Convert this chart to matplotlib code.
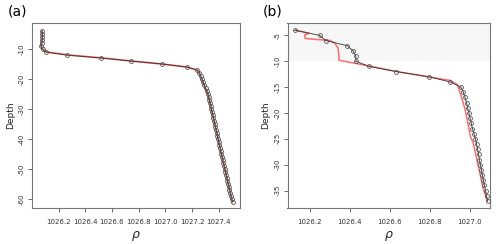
import matplotlib.pyplot as plt

# panel (a): observed profile (black circles) and model (red line)
depth_a = [-4, -5, -6, -7, -8, -9, -10, -11, -12, -13, -14, -15, -16, -17, -18, -19,
           -20, -21, -22, -23, -24, -25, -26, -27, -28, -29, -30, -31, -32, -33, -34,
           -35, -36, -37, -38, -39, -40, -41, -42, -43, -44, -45, -46, -47, -48, -49,
           -50, -51, -52, -53, -54, -55, -56, -57, -58, -59, -60, -61]
rho_a = [1026.075, 1026.076, 1026.078, 1026.077, 1026.073, 1026.068, 1026.080, 1026.105,
         1026.260, 1026.520, 1026.740, 1026.975, 1027.160, 1027.240, 1027.255, 1027.265,
         1027.275, 1027.284, 1027.293, 1027.302, 1027.311, 1027.320, 1027.326, 1027.331,
         1027.336, 1027.341, 1027.346, 1027.351, 1027.356, 1027.361, 1027.366, 1027.371,
         1027.376, 1027.381, 1027.386, 1027.391, 1027.396, 1027.401, 1027.406, 1027.411,
         1027.416, 1027.421, 1027.426, 1027.431, 1027.436, 1027.441, 1027.446, 1027.451,
         1027.456, 1027.461, 1027.466, 1027.471, 1027.476, 1027.481, 1027.486, 1027.491,
         1027.498, 1027.505]
model_depth_a = [-4, -6, -8, -9, -10, -11, -12, -13, -14, -15, -16, -17, -18, -20, -22,
                 -25, -30, -35, -40, -45, -50, -55, -61]
model_rho_a = [1026.074, 1026.077, 1026.071, 1026.066, 1026.078, 1026.110, 1026.270,
               1026.530, 1026.745, 1026.975, 1027.160, 1027.235, 1027.255, 1027.270,
               1027.290, 1027.318, 1027.344, 1027.370, 1027.396, 1027.420, 1027.446,
               1027.472, 1027.503]

# panel (b)
depth_b = [-4, -5, -6, -7, -8, -9, -10, -11, -12, -13, -14, -15, -16, -17, -18, -19, -20,
           -21, -22, -23, -24, -25, -26, -27, -28, -29, -30, -31, -32, -33, -34, -35, -36,
           -37]
rho_b = [1026.125, 1026.250, 1026.280, 1026.387, 1026.417, 1026.430, 1026.430, 1026.497,
         1026.633, 1026.795, 1026.900, 1026.955, 1026.967, 1026.975, 1026.983, 1026.988,
         1026.995, 1027.000, 1027.007, 1027.012, 1027.020, 1027.027, 1027.033, 1027.038,
         1027.043, 1027.047, 1027.052, 1027.057, 1027.062, 1027.067, 1027.072, 1027.078,
         1027.083, 1027.088]
model_depth_b = [-4, -4.6, -4.9, -5.6, -6.0, -6.5, -7.5, -9.8, -10.0, -10.5, -11.0, -12.0,
                 -13.0, -13.7, -14.5, -16.6, -19.2, -22.4, -24.7, -25.6, -28.2,
                 -31.4, -34.6, -37.0]
model_rho_b = [1026.130, 1026.197, 1026.175, 1026.177, 1026.300, 1026.325, 1026.342,
               1026.347, 1026.370, 1026.440, 1026.505, 1026.635, 1026.790, 1026.900,
               1026.937, 1026.955, 1026.975, 1026.992, 1027.003, 1027.015,
               1027.030, 1027.048, 1027.066, 1027.087]

xticks_a = [1026.2, 1026.4, 1026.6, 1026.8, 1027.0, 1027.2, 1027.4]
yticks_a = [-10, -20, -30, -40, -50, -60]
xticks_b = [1026.2, 1026.4, 1026.6, 1026.8, 1027.0]
yticks_b = [-5, -10, -15, -20, -25, -30, -35]

fig = plt.figure(figsize=(5, 2.44), dpi=100)
ax1 = fig.add_axes([0.064, 0.148, 0.416, 0.758])
ax2 = fig.add_axes([0.575, 0.148, 0.405, 0.758])


def style(ax, xticks, yticks):
    for _, v in ax.spines.items():
        v.set_color('#777777')
        v.set_linewidth(0.8)
    ax.set_xticks(xticks)
    ax.set_xticklabels(['%.1f' % t for t in xticks])
    ax.set_yticks(yticks)
    ax.set_yticklabels([str(t) for t in yticks], rotation=90, va='center')
    ax.tick_params(length=3, width=0.6, color='#555555', labelsize=5, labelcolor='#333333', pad=2)
    ax.tick_params(axis='x', pad=5)
    ax.set_ylabel('Depth', fontsize=6.5, color='#222222', labelpad=3)
    ax.set_xlabel(r'$\rho$', fontsize=9, color='#222222', labelpad=3)


ax1.plot(model_rho_a, model_depth_a, color='#ff6b6b', lw=1.3, zorder=2)
ax1.plot(rho_a, depth_a, color='#333333', lw=0.6, marker='o', ms=2.8, mfc='none',
         mec='#555555', mew=0.6, zorder=3)
ax1.set_xlim(1026.0, 1027.56)
ax1.set_ylim(-63, -1.3)
style(ax1, xticks_a, yticks_a)

ax2.axhspan(-10, 0, color='#f7f7f7', lw=0, zorder=0)
ax2.plot(model_rho_b, model_depth_b, color='#ff6b6b', lw=1.1, zorder=2)
ax2.plot(rho_b, depth_b, color='#333333', lw=0.6, marker='o', ms=2.8, mfc='none',
         mec='#555555', mew=0.6, zorder=3)
ax2.set_xlim(1026.089, 1027.1)
ax2.set_ylim(-38.34, -2.6)
style(ax2, xticks_b, yticks_b)

fig.text(0.016, 0.935, '(a)', fontsize=10)
fig.text(0.526, 0.935, '(b)', fontsize=10)

plt.savefig('out.png', dpi=100)
